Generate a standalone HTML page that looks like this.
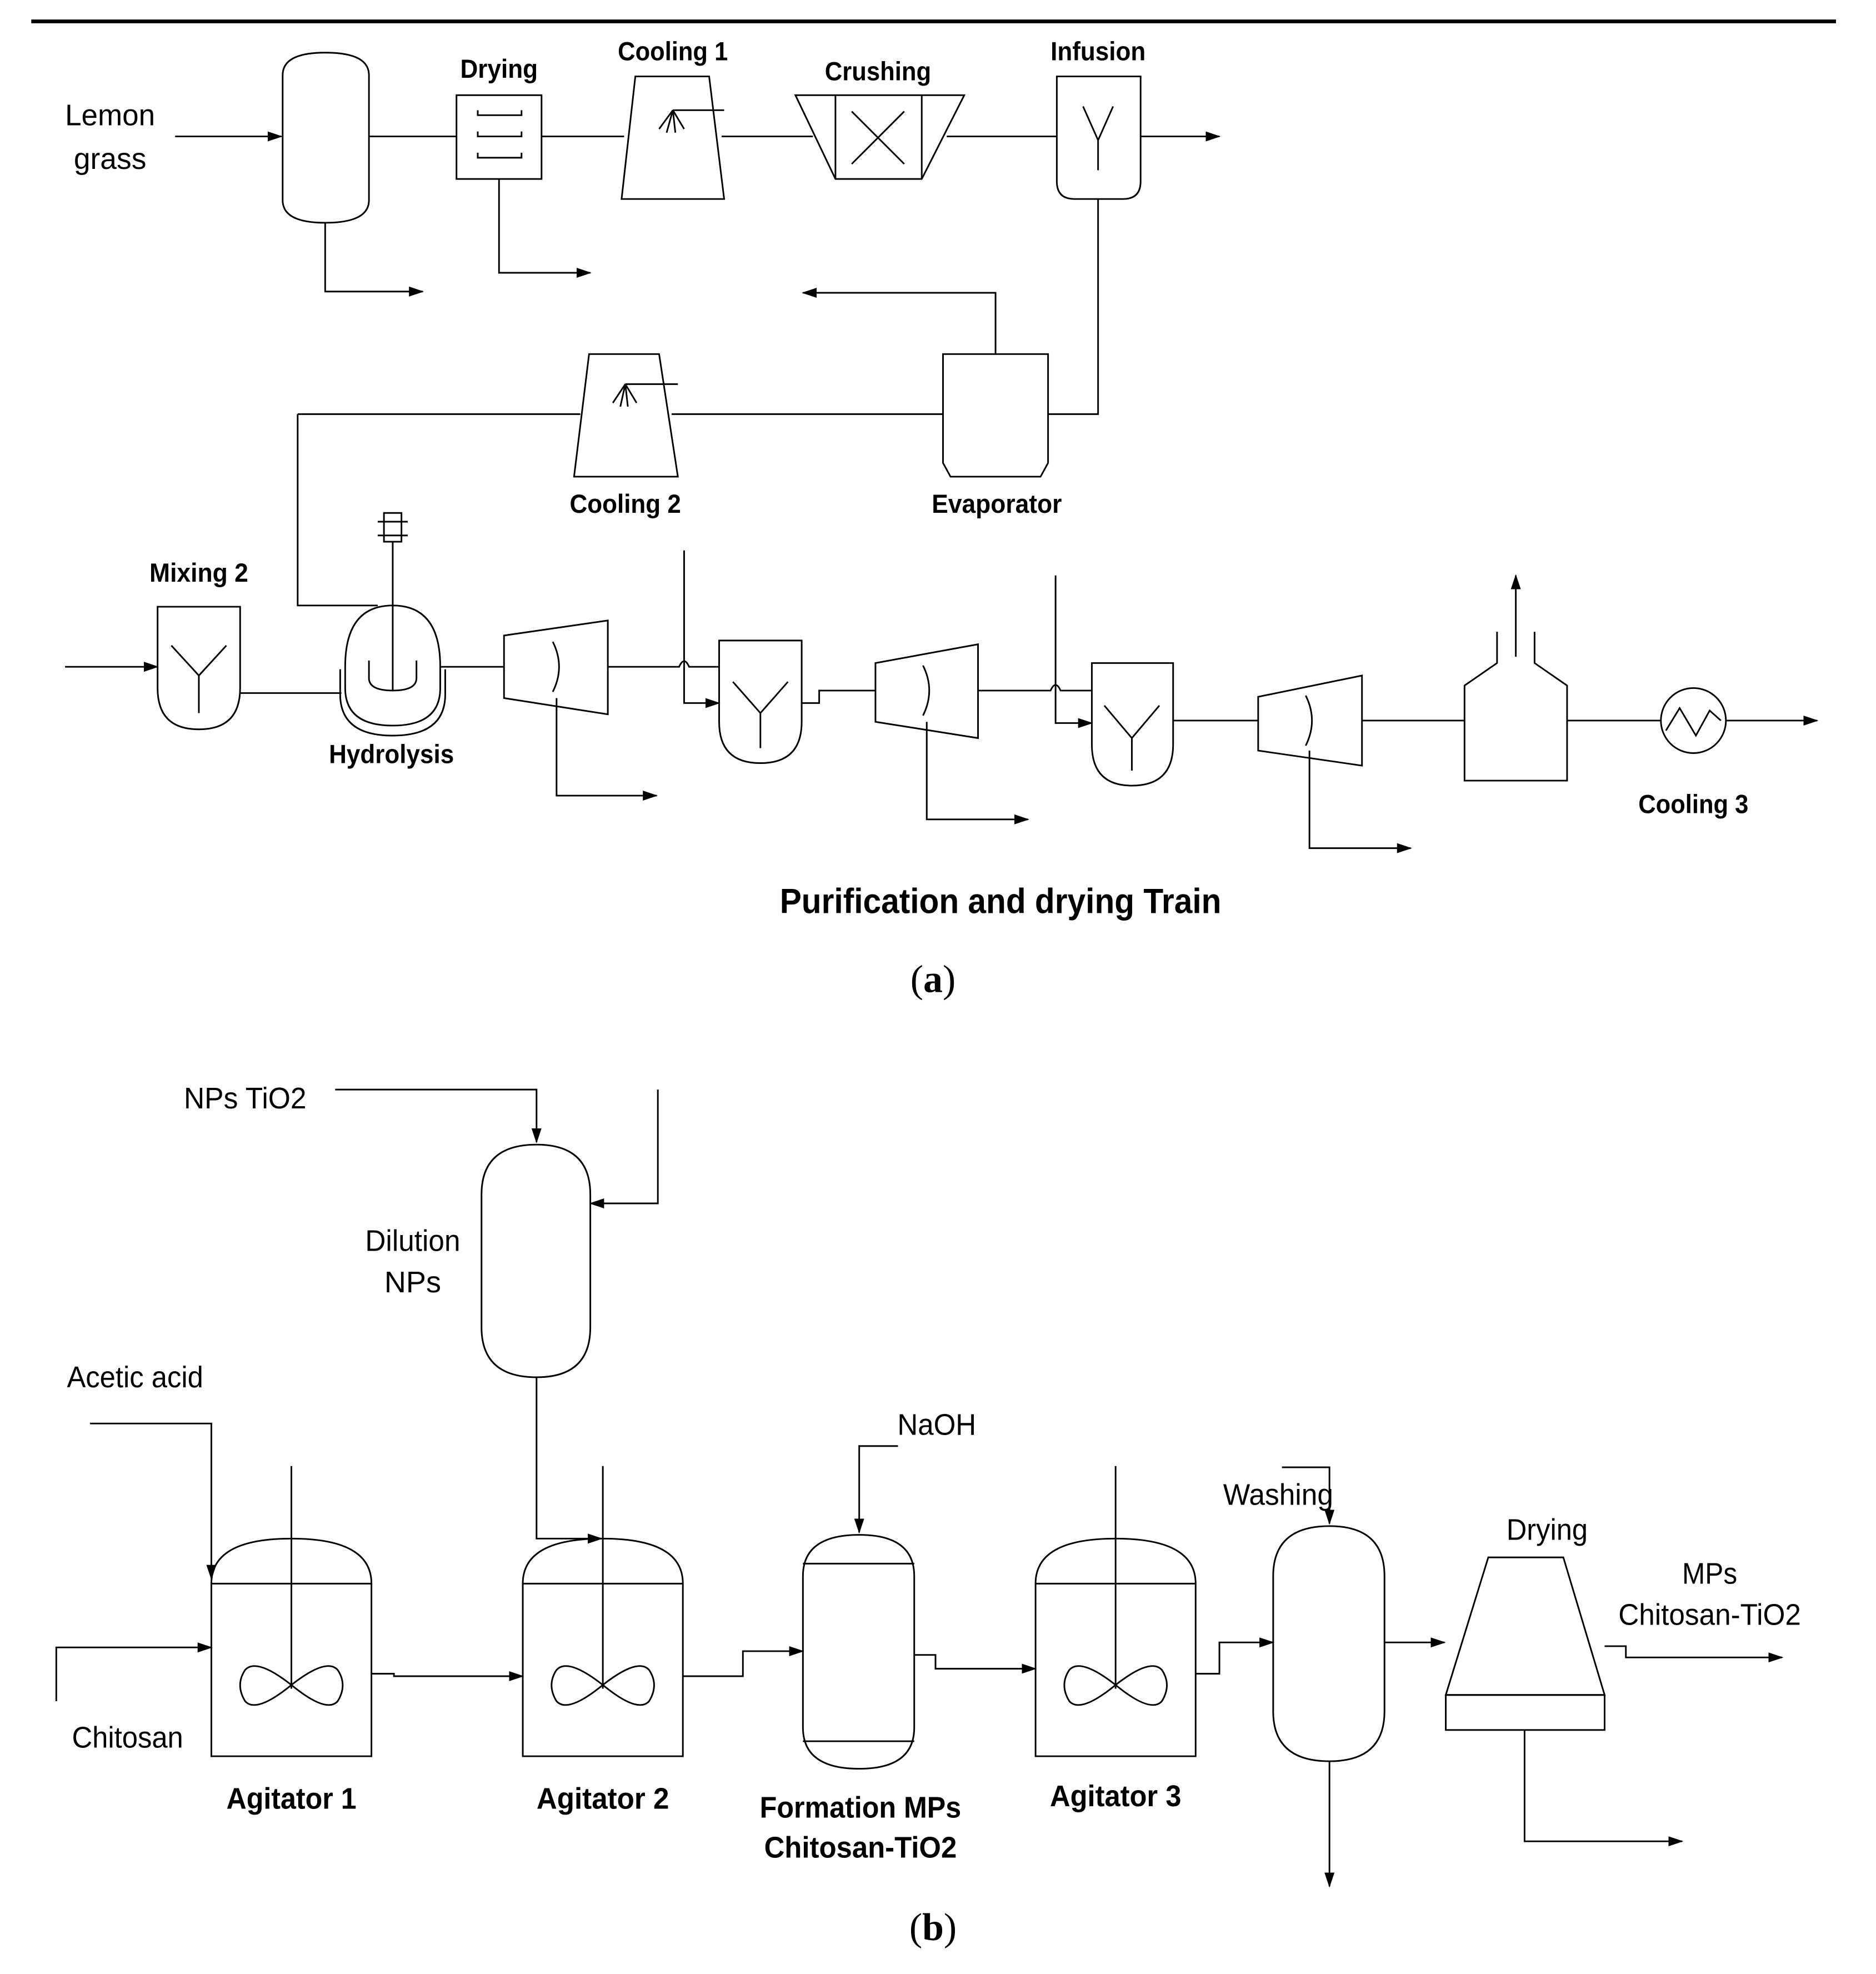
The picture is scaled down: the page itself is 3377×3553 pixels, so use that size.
<!DOCTYPE html>
<html><head><meta charset="utf-8"><style>
html,body{margin:0;padding:0;background:#fff}
svg{display:block}
.b{font-family:"Liberation Sans Narrow","Liberation Sans",sans-serif;font-weight:bold;font-size:21px;text-anchor:middle}
.n{font-family:"Liberation Sans Narrow","Liberation Sans",sans-serif;font-size:24px;text-anchor:middle}
.s{font-family:"Liberation Serif",serif;font-size:31px;text-anchor:middle}
</style></head><body>
<svg width="3377" height="3553" viewBox="0 0 1500 1578" xmlns="http://www.w3.org/2000/svg">
<defs><marker id="a" markerWidth="12" markerHeight="10" refX="11" refY="5" orient="auto" markerUnits="userSpaceOnUse"><path d="M0,1 L12,5 L0,9 Z" fill="#000"/></marker></defs>
<g fill="none" stroke="#000" stroke-width="1.3">
<line x1="25" y1="17" x2="1468" y2="17" stroke-width="3"/>
<line x1="140" y1="109" x2="225" y2="109" marker-end="url(#a)"/>
<path d="M226,60 Q226,42 260,42 Q295,42 295,60 V160 Q295,178 260,178 Q226,178 226,160 Z"/>
<line x1="295" y1="109" x2="365" y2="109"/>
<path d="M260,178 V233 H338" marker-end="url(#a)"/>
<rect x="365" y="76" width="68" height="67"/>
<path d="M382,88 V92 H417 V88 M382,105 V109 H417 V105 M382,122 V126 H417 V122"/>
<line x1="433" y1="109" x2="499" y2="109"/>
<path d="M399,143 V218 H472" marker-end="url(#a)"/>
<path d="M508,61 H567 L579,159 H497 Z"/>
<path d="M538,88 H579 M538,88 L527,103 M538,88 L533,106 M538,88 L540,106 M538,88 L547,103"/>
<line x1="577" y1="109" x2="650" y2="109"/>
<path d="M636,76 H771 L737,143 H668 Z"/>
<path d="M668,76 V143 M737,76 V143 M681,89 L723,131 M723,89 L681,131"/>
<line x1="757" y1="109" x2="845" y2="109"/>
<path d="M845,61 H912 V145 Q912,159 898,159 H859 Q845,159 845,145 Z"/>
<path d="M866,85 L878,112 L890,85 M878,112 V136"/>
<line x1="912" y1="109" x2="975" y2="109" marker-end="url(#a)"/>
<path d="M878,159 V331 H838"/>
<path d="M754,283 H838 V370 L832,381 H760 L754,370 Z"/>
<path d="M796,283 V234 H642" marker-end="url(#a)"/>
<path d="M471,283 H527 L542,381 H459 Z"/>
<path d="M500,307 H542 M500,307 L490,322 M500,307 L496,325 M500,307 L502,325 M500,307 L509,322"/>
<line x1="238" y1="331" x2="464" y2="331"/>
<line x1="537" y1="331" x2="754" y2="331"/>
<path d="M238,331 V484 H302"/>
<line x1="52" y1="533" x2="126" y2="533" marker-end="url(#a)"/>
<path d="M126,485 H192 V550 Q192,583 159,583 Q126,583 126,550 Z"/>
<path d="M137,516 L159,540 L181,516 M159,540 V570"/>
<line x1="192" y1="554" x2="273" y2="554"/>
<path d="M276,533 Q276,484 314,484 Q352,484 352,533 V550 Q352,580 314,580 Q276,580 276,550 Z"/>
<path d="M272,535 V555 Q272,588 314,588 Q356,588 356,555 V535"/>
<path d="M295,528 V542 Q295,552 314,552 Q333,552 333,542 V528"/>
<line x1="314" y1="433" x2="314" y2="552"/>
<rect x="307" y="410" width="14" height="23"/>
<path d="M302,417 H326 M302,428 H326"/>
<line x1="352" y1="533" x2="403" y2="533"/>
<path d="M403,508 L486,496 V571 L403,558 Z"/>
<path d="M442,513 Q452,533 442,553"/>
<path d="M445,558 V636 H525" marker-end="url(#a)"/>
<path d="M486,533 H543 Q547,524 551,533 H575"/>
<path d="M547,440 V562 H575" marker-end="url(#a)"/>
<path d="M575,512 H641 V577 Q641,610 608,610 Q575,610 575,577 Z"/>
<path d="M586,545 L608,570 L630,545 M608,570 V598"/>
<path d="M641,562 H655 V552 H700"/>
<path d="M700,530 L782,515 V590 L700,577 Z"/>
<path d="M738,532 Q748,552 738,572"/>
<path d="M741,577 V655 H822" marker-end="url(#a)"/>
<path d="M782,552 H840 Q844,543 848,552 H873"/>
<path d="M844,460 V578 H873" marker-end="url(#a)"/>
<path d="M873,530 H938 V595 Q938,628 905,628 Q873,628 873,595 Z"/>
<path d="M883,564 L905,590 L927,564 M905,590 V616"/>
<line x1="938" y1="576" x2="1006" y2="576"/>
<path d="M1006,557 L1089,540 V612 L1006,600 Z"/>
<path d="M1044,556 Q1054,576 1044,596"/>
<path d="M1047,600 V678 H1128" marker-end="url(#a)"/>
<line x1="1089" y1="576" x2="1171" y2="576"/>
<path d="M1197,505 V530 L1171,548 V624 H1253 V548 L1227,530 V505"/>
<line x1="1212" y1="525" x2="1212" y2="460" marker-end="url(#a)"/>
<line x1="1253" y1="576" x2="1328" y2="576"/>
<circle cx="1354" cy="576" r="26"/>
<path d="M1332,584 L1343,566 L1356,588 L1367,568 L1376,576"/>
<line x1="1380" y1="576" x2="1453" y2="576" marker-end="url(#a)"/>
<path d="M268,871 H429 V913" marker-end="url(#a)"/>
<path d="M385,955 Q385,915 429,915 Q472,915 472,955 V1061 Q472,1101 429,1101 Q385,1101 385,1061 Z"/>
<path d="M526,871 V962 H472" marker-end="url(#a)"/>
<path d="M429,1101 V1230 H481" marker-end="url(#a)"/>
<path d="M72,1138 H169 V1262" marker-end="url(#a)"/>
<path d="M45,1360 V1317 H169" marker-end="url(#a)"/>
<g id="ag">
<path d="M169,1266 Q169,1230 233,1230 Q297,1230 297,1266 Z M169,1266 V1404 H297 V1266"/>
<line x1="233" y1="1172" x2="233" y2="1350"/>
<path d="M233,1347 Q205,1325 196,1335 Q188,1347 196,1360 Q205,1370 233,1347 Q261,1325 270,1335 Q278,1347 270,1360 Q261,1370 233,1347"/>
</g>
<use href="#ag" x="249"/>
<use href="#ag" x="659"/>
<path d="M297,1338 H315 V1340 H418" marker-end="url(#a)"/>
<path d="M546,1340 H594 V1320 H642" marker-end="url(#a)"/>
<path d="M642,1260 Q642,1227 687,1227 Q731,1227 731,1260 V1381 Q731,1414 687,1414 Q642,1414 642,1381 Z"/>
<path d="M642,1250 H731 M642,1392 H731"/>
<path d="M718,1156 H687 V1225" marker-end="url(#a)"/>
<path d="M731,1323 H748 V1334 H828" marker-end="url(#a)"/>
<path d="M956,1338 H975 V1313 H1018" marker-end="url(#a)"/>
<path d="M1018,1260 Q1018,1220 1063,1220 Q1107,1220 1107,1260 V1368 Q1107,1408 1063,1408 Q1018,1408 1018,1368 Z"/>
<path d="M1025,1173 H1063 V1218" marker-end="url(#a)"/>
<line x1="1063" y1="1408" x2="1063" y2="1508" marker-end="url(#a)"/>
<line x1="1107" y1="1313" x2="1155" y2="1313" marker-end="url(#a)"/>
<path d="M1190,1245 H1250 L1283,1355 H1156 Z"/>
<rect x="1156" y="1355" width="127" height="28"/>
<path d="M1219,1383 V1472 H1345" marker-end="url(#a)"/>
<path d="M1283,1316 H1300 V1325 H1425" marker-end="url(#a)"/>
</g>
<g fill="#000">
<text class="n" x="88" y="100" textLength="72" lengthAdjust="spacingAndGlyphs">Lemon</text>
<text class="n" x="88" y="135" textLength="58" lengthAdjust="spacingAndGlyphs">grass</text>
<text class="b" x="399" y="62" textLength="62" lengthAdjust="spacingAndGlyphs">Drying</text>
<text class="b" x="538" y="48" textLength="88" lengthAdjust="spacingAndGlyphs">Cooling 1</text>
<text class="b" x="702" y="64" textLength="85" lengthAdjust="spacingAndGlyphs">Crushing</text>
<text class="b" x="878" y="48" textLength="76" lengthAdjust="spacingAndGlyphs">Infusion</text>
<text class="b" x="500" y="410" textLength="89" lengthAdjust="spacingAndGlyphs">Cooling 2</text>
<text class="b" x="797" y="410" textLength="104" lengthAdjust="spacingAndGlyphs">Evaporator</text>
<text class="b" x="159" y="465" textLength="79" lengthAdjust="spacingAndGlyphs">Mixing 2</text>
<text class="b" x="313" y="610" textLength="100" lengthAdjust="spacingAndGlyphs">Hydrolysis</text>
<text class="b" x="1354" y="650" textLength="88" lengthAdjust="spacingAndGlyphs">Cooling 3</text>
<text class="b" x="800" y="730" style="font-size:28px" textLength="353" lengthAdjust="spacingAndGlyphs">Purification and drying Train</text>
<text class="s" x="746" y="793">(<tspan font-weight="bold">a</tspan>)</text>
<text class="n" x="196" y="886" textLength="98" lengthAdjust="spacingAndGlyphs">NPs TiO2</text>
<text class="n" x="330" y="1000" textLength="76" lengthAdjust="spacingAndGlyphs">Dilution</text>
<text class="n" x="330" y="1033">NPs</text>
<text class="n" x="108" y="1109" textLength="109" lengthAdjust="spacingAndGlyphs">Acetic acid</text>
<text class="n" x="102" y="1397" textLength="89" lengthAdjust="spacingAndGlyphs">Chitosan</text>
<text class="b" x="233" y="1446" style="font-size:24px" textLength="104" lengthAdjust="spacingAndGlyphs">Agitator 1</text>
<text class="b" x="482" y="1446" style="font-size:24px" textLength="106" lengthAdjust="spacingAndGlyphs">Agitator 2</text>
<text class="b" x="892" y="1444" style="font-size:24px" textLength="105" lengthAdjust="spacingAndGlyphs">Agitator 3</text>
<text class="b" x="688" y="1453" style="font-size:24px" textLength="161" lengthAdjust="spacingAndGlyphs">Formation MPs</text>
<text class="b" x="688" y="1485" style="font-size:24px" textLength="154" lengthAdjust="spacingAndGlyphs">Chitosan-TiO2</text>
<text class="n" x="749" y="1147" textLength="63" lengthAdjust="spacingAndGlyphs">NaOH</text>
<text class="n" x="1022" y="1203" textLength="88" lengthAdjust="spacingAndGlyphs">Washing</text>
<text class="n" x="1237" y="1231" textLength="65" lengthAdjust="spacingAndGlyphs">Drying</text>
<text class="n" x="1367" y="1266" textLength="44" lengthAdjust="spacingAndGlyphs">MPs</text>
<text class="n" x="1367" y="1299" textLength="146" lengthAdjust="spacingAndGlyphs">Chitosan-TiO2</text>
<text class="s" x="746" y="1551">(<tspan font-weight="bold">b</tspan>)</text>
</g>
</svg>
</body></html>
